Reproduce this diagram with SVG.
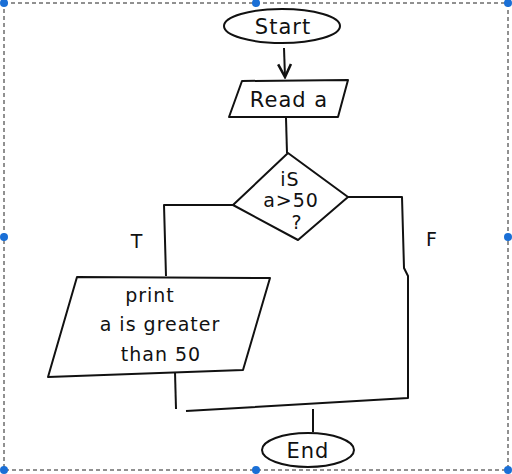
<svg xmlns="http://www.w3.org/2000/svg" width="512" height="474" viewBox="0 0 512 474">
<defs>
<style>
.s{fill:#fff;stroke:#111;stroke-width:2;stroke-linejoin:round}
.c{fill:none;stroke:#111;stroke-width:2;stroke-linejoin:round}
.t{font-family:"DejaVu Sans","Liberation Sans",sans-serif;font-size:19px;fill:#111;text-anchor:middle;letter-spacing:1px}
.big{font-size:21px}
.sel{fill:none;stroke:#222;stroke-width:1;stroke-dasharray:4 3}
.h{fill:#1a6fd6}
</style>
<marker id="ah" viewBox="0 0 10 10" refX="9" refY="5" markerWidth="8" markerHeight="8" orient="auto">
<path d="M1,1 L9,5 L1,9" fill="none" stroke="#111" stroke-width="1.6"/>
</marker>
</defs>
<rect x="4" y="3" width="504" height="467" fill="#fff"/>
<g id="connectors">
<path class="c" d="M284,48 L285,77" marker-end="url(#ah)"/>
<path class="c" d="M286,118 L287,153"/>
<path class="c" d="M233,205 L164,205 L166,276"/>
<path class="c" d="M348,197 L402,197 L404,268 L408,276 L408,398 L186,411"/>
<path class="c" d="M175,372 L176,409"/>
<path class="c" d="M313,409 L313,432"/>
</g>
<g id="start">
<ellipse class="s" cx="282" cy="26" rx="58" ry="17"/>
<text class="t big" x="283" y="34">Start</text>
</g>
<g id="read">
<polygon class="s" points="242,81 348,80 338,117 229,117"/>
<text class="t big" x="289" y="107">Read a</text>
</g>
<g id="decision">
<polygon class="s" points="288,153 348,197 298,240 233,205"/>
<text class="t" x="290" y="186">iS</text>
<text class="t" x="291" y="207">a&gt;50</text>
<text class="t" x="297" y="229">?</text>
</g>
<g id="print">
<polygon class="s" points="77,277 270,278 243,370 48,377"/>
<text class="t" x="150" y="302">print</text>
<text class="t" x="160" y="331">a is greater</text>
<text class="t" x="161" y="361">than 50</text>
</g>
<g id="end">
<ellipse class="s" cx="308" cy="450" rx="46" ry="17"/>
<text class="t big" x="308" y="458">End</text>
</g>
<g id="labels">
<text class="t" x="137" y="248">T</text>
<text class="t" x="432" y="246">F</text>
</g>
<g id="selection">
<rect class="sel" x="4" y="3" width="504" height="467"/>
<circle class="h" cx="4" cy="3" r="4"/>
<circle class="h" cx="256" cy="3" r="4"/>
<circle class="h" cx="508" cy="3" r="4"/>
<circle class="h" cx="4" cy="237" r="4"/>
<circle class="h" cx="508" cy="237" r="4"/>
<circle class="h" cx="4" cy="470" r="4"/>
<circle class="h" cx="256" cy="470" r="4"/>
<circle class="h" cx="508" cy="470" r="4"/>
</g>
</svg>
